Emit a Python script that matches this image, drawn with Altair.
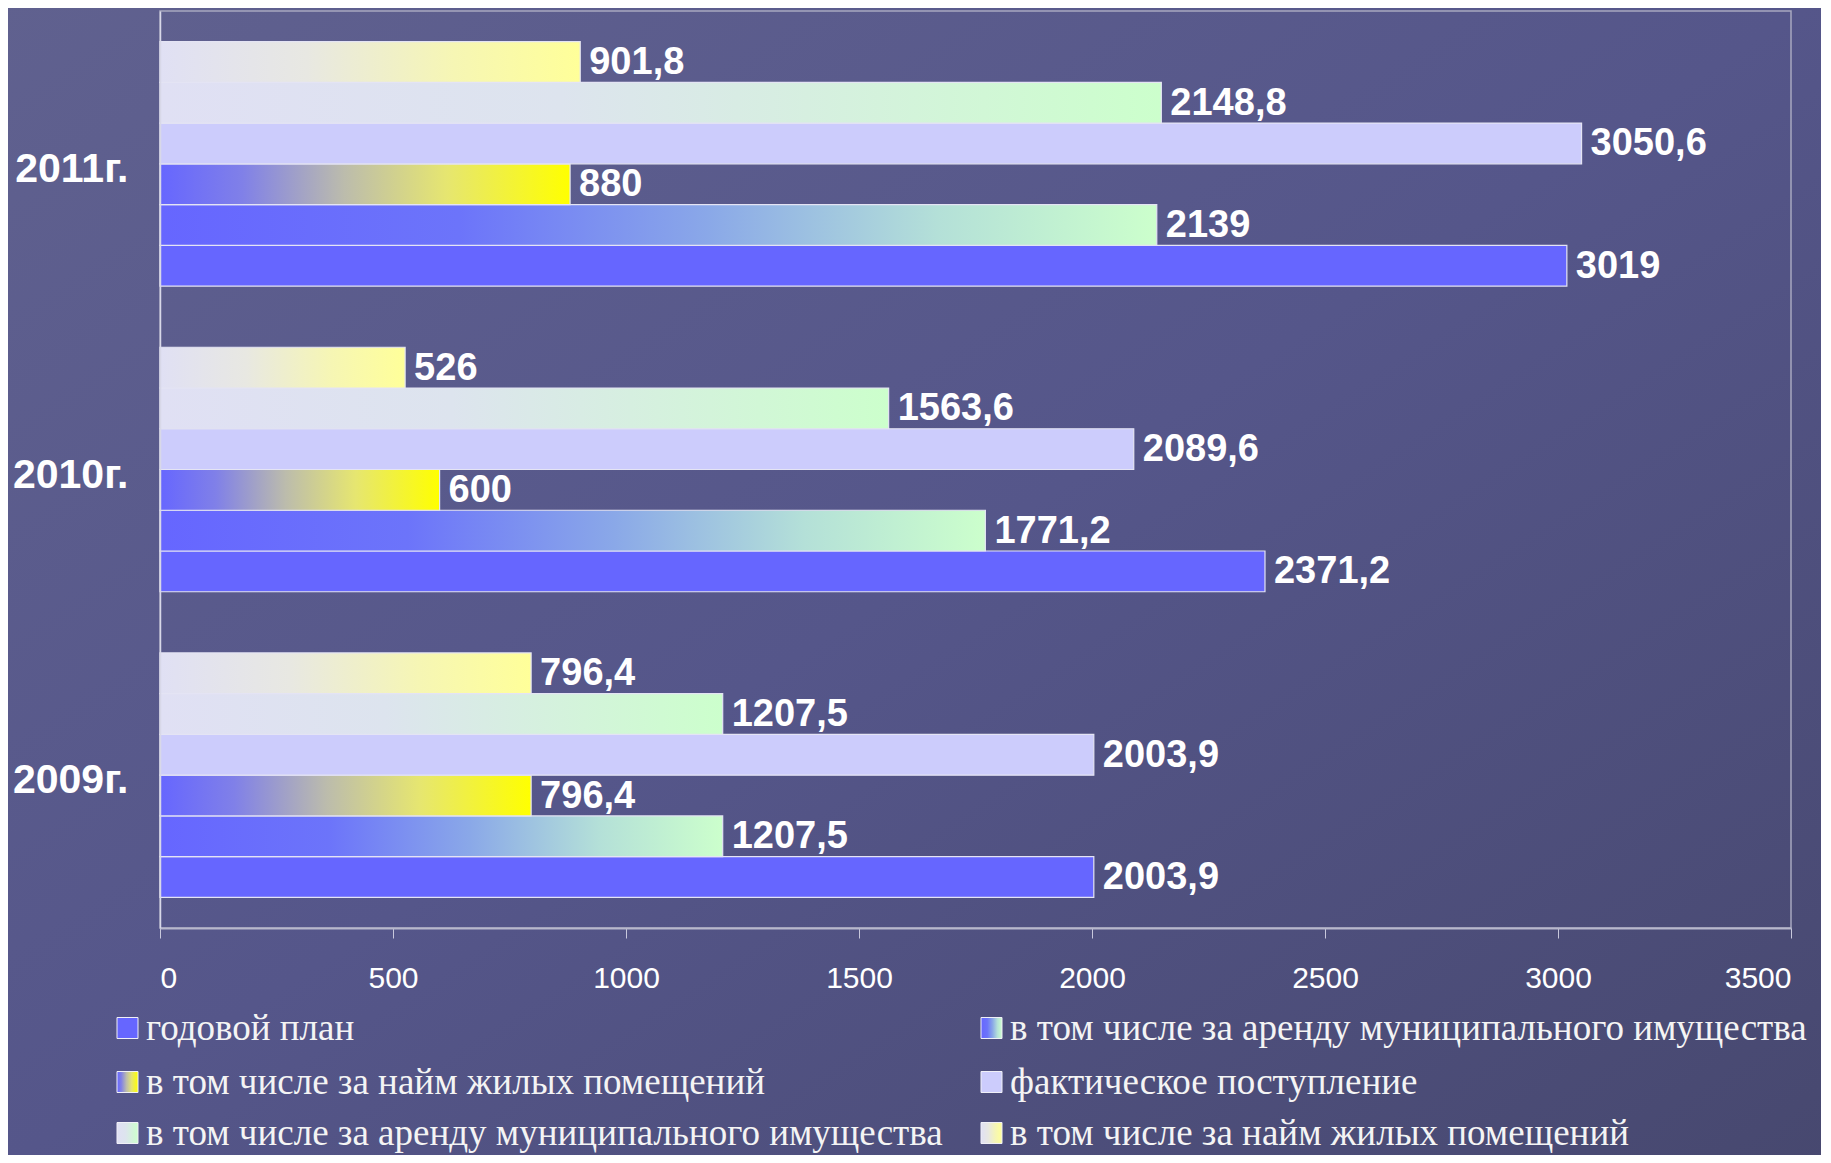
import altair as alt
import pandas as pd

# ---- data ----
years = ["2011г.", "2010г.", "2009г."]
plan = [3019, 2371.2, 2003.9]            # годовой план
rent_plan = [2139, 1771.2, 1207.5]       # в т.ч. аренда (план)
hire_plan = [880, 600, 796.4]            # в т.ч. найм (план)
fact = [3050.6, 2089.6, 2003.9]          # фактическое поступление
rent_fact = [2148.8, 1563.6, 1207.5]     # в т.ч. аренда (факт)
hire_fact = [901.8, 526, 796.4]          # в т.ч. найм (факт)

series_ids = ["plan", "rent_plan", "hire_plan", "fact", "rent_fact", "hire_fact"]
series_names = [
    "годовой план",
    "в том числе за аренду муниципального имущества",
    "в том числе за найм жилых помещений",
    "фактическое поступление",
    "в том числе за аренду муниципального имущества",
    "в том числе за найм жилых помещений",
]
series_values = [plan, rent_plan, hire_plan, fact, rent_fact, hire_fact]
# top-to-bottom order of bars inside each year group
bar_order = ["hire_fact", "rent_fact", "fact", "hire_plan", "rent_plan", "plan"]
x_ticks = [0, 500, 1000, 1500, 2000, 2500, 3000, 3500]


def fmt(v):
    return ("%g" % v).replace(".", ",")


rows = []
for sid, vals in zip(series_ids, series_values):
    for y, v in zip(years, vals):
        rows.append({"year": y, "series": sid, "value": v, "label": fmt(v)})
df = pd.DataFrame(rows)


def grad(stops, x2=1, y2=0):
    return alt.LinearGradient(
        gradient="linear",
        stops=[alt.GradientStop(color=c, offset=o) for o, c in stops],
        x1=0, y1=0, x2=x2, y2=y2,
    )


fills = {
    "plan": grad([(0, "#6666ff"), (1, "#6666ff")]),
    "rent_plan": grad([(0, "#6666ff"), (0.3, "#6c74fa"), (0.55, "#8aa8e8"),
                       (0.78, "#b4e0d8"), (1, "#ccffcc")]),
    "hire_plan": grad([(0, "#6666ff"), (0.2, "#8080e8"), (0.45, "#bcbcac"),
                       (0.7, "#e6e670"), (1, "#ffff00")]),
    "fact": grad([(0, "#ccccfc"), (1, "#ccccfc")]),
    "rent_fact": grad([(0, "#e0e0f4"), (0.4, "#dde4ee"), (1, "#ccffcc")]),
    "hire_fact": grad([(0, "#e0e0f4"), (0.35, "#e8e8e2"), (0.7, "#f6f6b4"),
                       (1, "#ffff99")]),
}

W, H = 1631, 917

y_enc = alt.Y(
    "year:N", sort=years, title=None,
    scale=alt.Scale(paddingInner=0.2, paddingOuter=0.1),
    axis=alt.Axis(labelFontSize=41, labelFontWeight="bold", labelColor="white",
                  labelFont="Liberation Sans", ticks=False, labelPadding=32,
                  labelOffset=6,
                  domainColor="#d8d8e8", domainWidth=1.5, zindex=2),
)
x_enc = alt.X(
    "value:Q", title=None,
    scale=alt.Scale(domain=[0, 3500], nice=False, zero=True),
    axis=alt.Axis(values=x_ticks, format="d", grid=False, labelFontSize=30,
                  labelColor="white", labelFont="Liberation Sans",
                  tickSize=10, tickColor="#c8c8dc", domainColor="#b8b8cc",
                  domainWidth=2, labelPadding=25, zindex=2),
)
yoff_enc = alt.YOffset("series:N", sort=bar_order,
                       scale=alt.Scale(domain=bar_order, paddingInner=0, paddingOuter=0))

one = pd.DataFrame({"k": [0]})

layers = []
# background wash
layers.append(
    alt.Chart(one).mark_rect(
        fill=grad([(0, "#60618f"), (0.5, "#55568a"), (1, "#47486f")], x2=1, y2=1)
    ).encode(x=alt.value(-160), x2=alt.value(W + 40), y=alt.value(-20), y2=alt.value(H + 240))
)
# plot frame
layers.append(
    alt.Chart(one).mark_rect(fillOpacity=0, stroke="#a8a8c0", strokeWidth=1.5).encode(
        x=alt.value(0), x2=alt.value(W), y=alt.value(0), y2=alt.value(H))
)

for sid in series_ids:
    layers.append(
        alt.Chart(df).transform_filter(alt.datum.series == sid).mark_bar(
            fill=fills[sid], stroke="#e4e4f4", strokeWidth=1.2
        ).encode(x=x_enc, y=y_enc, yOffset=yoff_enc)
    )

layers.append(
    alt.Chart(df).mark_text(
        align="left", baseline="middle", dx=9, dy=1, fontSize=38, fontWeight="bold",
        color="white", font="Liberation Sans"
    ).encode(x=x_enc, y=y_enc, yOffset=yoff_enc, text="label:N")
)

# manual legend (2 columns, row-major), gradient swatches
col_x = [-43, 821]
row_y = [1017, 1071, 1122]
sw = 21
for i, (sid, name) in enumerate(zip(series_ids, series_names)):
    r, c = divmod(i, 2)
    cx, cy = col_x[c], row_y[r]
    layers.append(
        alt.Chart(one).mark_rect(fill=fills[sid], stroke="#f0f0f8", strokeWidth=1).encode(
            x=alt.value(cx), x2=alt.value(cx + sw),
            y=alt.value(cy - sw / 2), y2=alt.value(cy + sw / 2))
    )
    layers.append(
        alt.Chart(one).mark_text(
            align="left", baseline="middle", fontSize=37, font="Liberation Serif",
            color="#f4f4f4"
        ).encode(x=alt.value(cx + sw + 8), y=alt.value(cy + 1), text=alt.value(name))
    )

chart = alt.layer(*layers).properties(
    width=W, height=H,
    padding={"left": 152, "top": 3, "right": 30, "bottom": 227},
    autosize=alt.AutoSizeParams(type="none"),
    background="#55568a",
).configure_view(stroke=None)

chart.save("out.html", embed_options={"renderer": "svg", "actions": False})
